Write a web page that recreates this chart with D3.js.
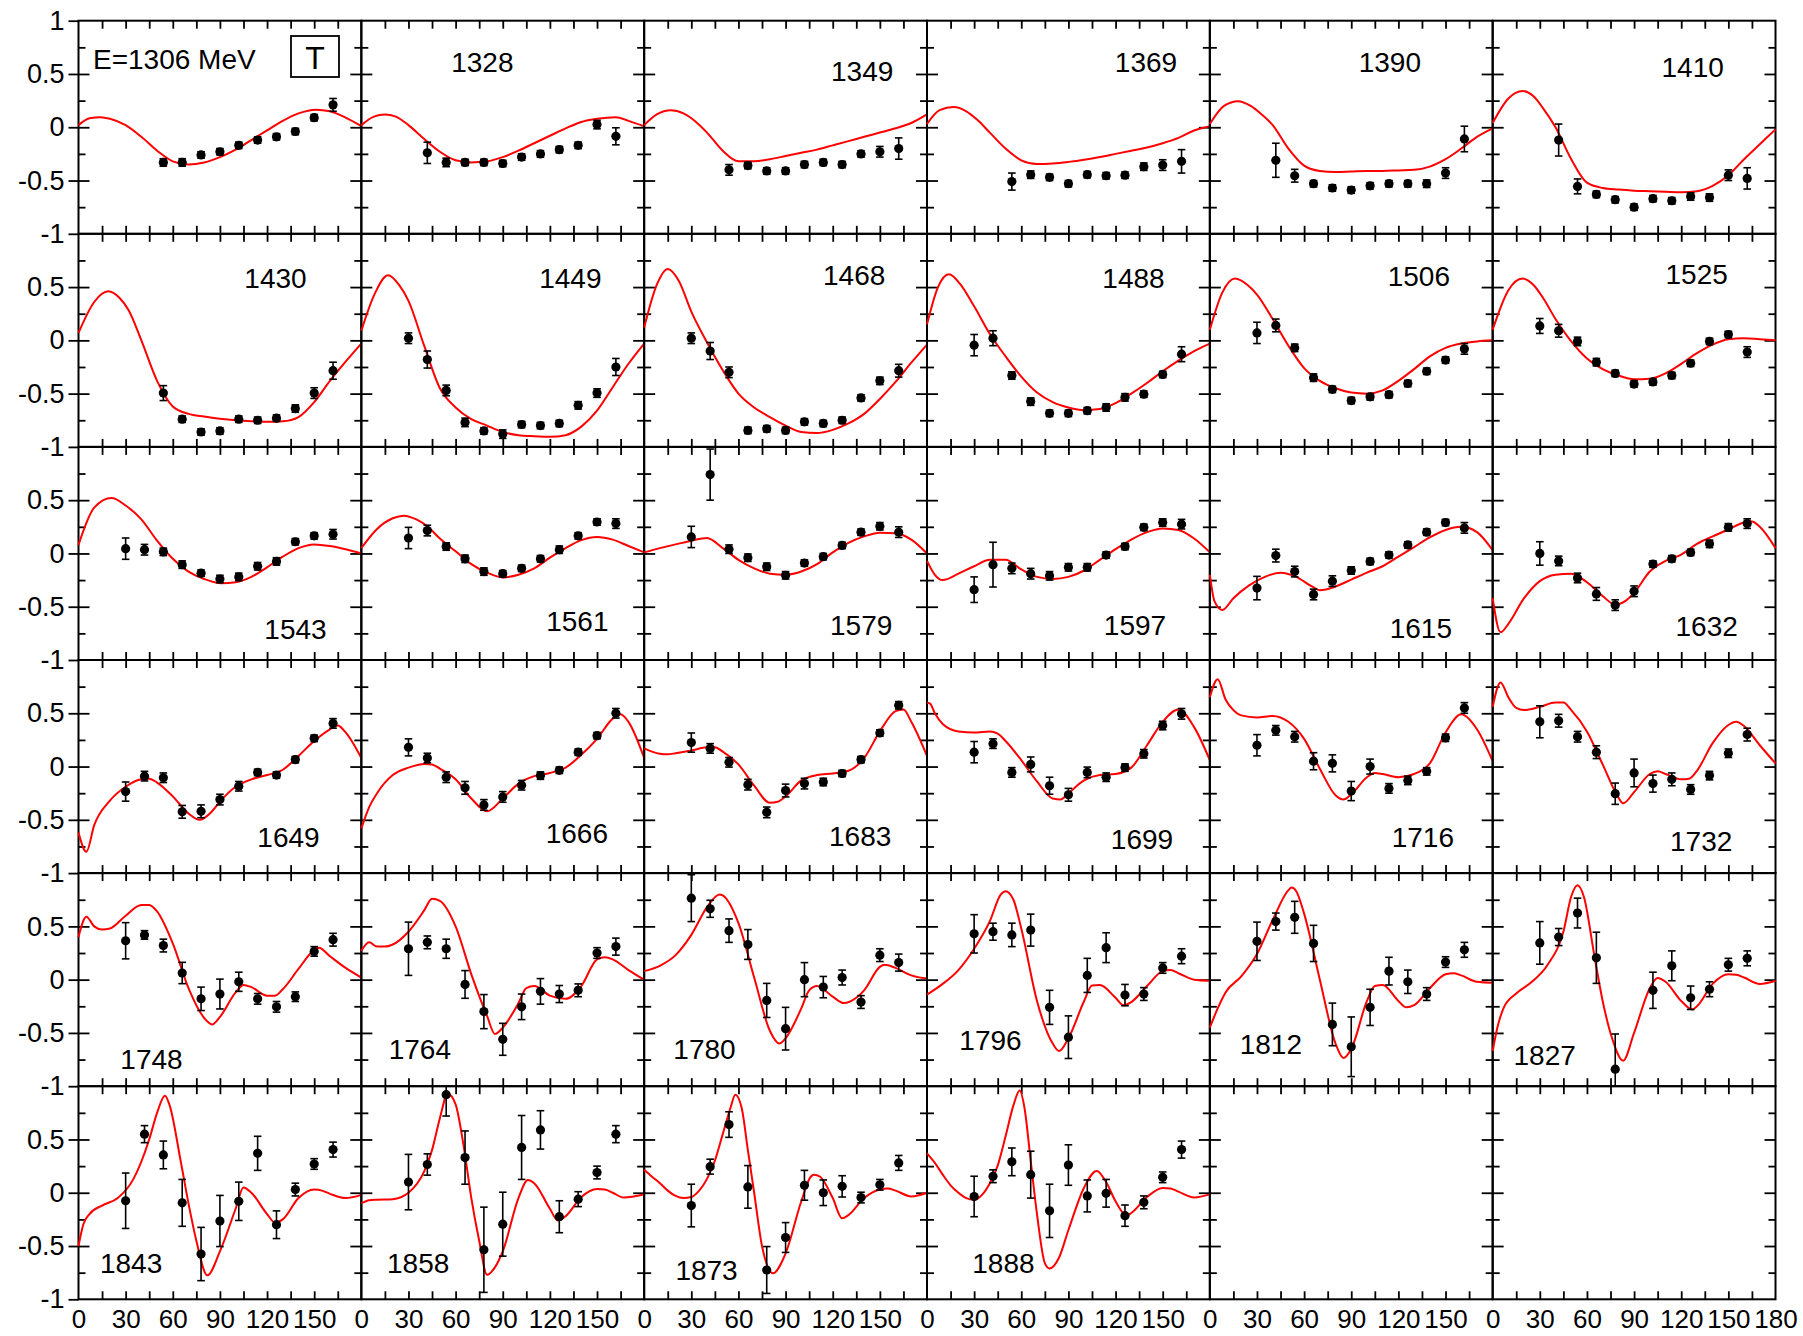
<!DOCTYPE html>
<html><head><meta charset="utf-8">
<script src="https://cdn.jsdelivr.net/npm/d3@7"></script>
<style>body{margin:0;background:#fff}svg{display:block}</style>
</head><body><svg id="c" width="1803" height="1336"></svg>
<script>
// ---------------- DATA ----------------
const energies=[1306,1328,1349,1369,1390,1410,1430,1449,1468,1488,1506,1525,1543,1561,1579,1597,1615,1632,1649,1666,1683,1699,1716,1732,1748,1764,1780,1796,1812,1827,1843,1858,1873,1888];
const angles=[30,42,54,66,78,90,102,114,126,138,150,162];
const asymT=[
[null,null,-0.33,-0.33,-0.26,-0.23,-0.17,-0.12,-0.09,-0.04,0.09,0.21],
[null,-0.24,-0.33,-0.33,-0.33,-0.34,-0.28,-0.25,-0.21,-0.17,0.025,-0.085],
[null,null,-0.40,-0.36,-0.41,-0.41,-0.35,-0.33,-0.35,-0.25,-0.23,-0.2],
[null,null,-0.51,-0.445,-0.47,-0.53,-0.445,-0.455,-0.45,-0.37,-0.355,-0.32],
[null,-0.31,-0.455,-0.53,-0.57,-0.59,-0.55,-0.53,-0.53,-0.53,-0.43,-0.11],
[null,-0.12,-0.555,-0.63,-0.68,-0.75,-0.67,-0.69,-0.65,-0.66,-0.45,-0.48],
[null,null,-0.495,-0.74,-0.86,-0.85,-0.74,-0.75,-0.73,-0.64,-0.495,-0.285],
[0.02,-0.18,-0.47,-0.77,-0.85,-0.88,-0.79,-0.80,-0.78,-0.61,-0.495,-0.25],
[0.02,-0.10,-0.30,-0.845,-0.83,-0.845,-0.765,-0.78,-0.75,-0.54,-0.38,-0.285],
[-0.045,0.02,-0.33,-0.575,-0.685,-0.685,-0.66,-0.63,-0.535,-0.505,-0.32,-0.13],
[0.07,0.14,-0.07,-0.35,-0.46,-0.565,-0.53,-0.51,-0.405,-0.29,-0.185,-0.08],
[0.135,0.09,-0.01,-0.205,-0.31,-0.41,-0.39,-0.33,-0.215,-0.01,0.055,-0.11],
[0.045,0.035,0.015,-0.105,-0.185,-0.24,-0.22,-0.12,-0.075,0.11,0.165,0.18],
[0.145,0.215,0.065,-0.05,-0.17,-0.19,-0.14,-0.05,0.035,0.165,0.295,0.28],
[0.155,0.74,0.04,-0.04,-0.125,-0.205,-0.09,-0.03,0.075,0.2,0.255,0.2],
[-0.34,-0.105,-0.14,-0.19,-0.21,-0.13,-0.13,-0.015,0.065,0.245,0.29,0.275],
[-0.325,-0.02,-0.17,-0.385,-0.26,-0.16,-0.075,-0.015,0.08,0.2,0.29,0.24],
[0.0,-0.07,-0.23,-0.38,-0.485,-0.355,-0.1,-0.05,0.01,0.09,0.245,0.28],
[-0.235,-0.09,-0.105,-0.425,-0.42,-0.31,-0.185,-0.055,-0.08,0.065,0.265,0.405],
[0.18,0.08,-0.1,-0.2,-0.36,-0.285,-0.175,-0.085,-0.035,0.135,0.29,0.5],
[0.225,0.17,0.04,-0.17,-0.43,-0.225,-0.16,-0.145,-0.065,0.065,0.315,0.575],
[0.135,0.215,-0.055,0.02,-0.18,-0.265,-0.055,-0.1,-0.01,0.12,0.385,0.495],
[0.2,0.34,0.28,0.05,0.03,-0.23,0.0,-0.205,-0.13,-0.045,0.27,0.55],
[0.42,0.43,0.28,0.135,-0.255,-0.06,-0.16,-0.12,-0.215,-0.085,0.125,0.3],
[0.365,0.42,0.32,0.0625,-0.18,-0.135,-0.02,-0.18,-0.255,-0.16,0.265,0.375],
[0.29,0.35,0.29,-0.045,-0.3,-0.56,-0.255,-0.11,-0.135,-0.1,0.25,0.31],
[0.765,0.665,0.46,0.33,-0.195,-0.46,0.0,-0.07,0.02,-0.21,0.23,0.16],
[0.43,0.45,0.42,0.465,-0.26,-0.54,0.04,0.3,-0.145,-0.135,0.11,0.22],
[0.36,0.545,0.585,0.34,-0.42,-0.63,-0.26,0.08,-0.02,-0.135,0.165,0.28],
[0.345,0.4,0.625,0.205,-0.84,null,-0.1,0.13,-0.17,-0.09,0.14,0.2],
[-0.075,0.55,0.355,-0.095,-0.575,-0.265,-0.08,0.37,-0.3,0.03,0.27,0.405],
[0.1,0.265,0.92,0.33,-0.535,-0.295,0.425,0.59,-0.225,-0.06,0.19,0.55],
[-0.12,0.245,0.64,0.055,-0.725,-0.42,0.07,0.0,0.06,-0.045,0.075,0.28],
[-0.035,0.155,0.29,0.17,-0.17,0.26,-0.03,-0.005,-0.215,-0.09,0.145,0.405]
];
const errT=[
[null,null,0.035,0.035,0.03,0.03,0.03,0.03,0.03,0.03,0.03,0.06],
[null,0.1,0.04,0.03,0.03,0.03,0.03,0.03,0.03,0.03,0.04,0.08],
[null,null,0.05,0.03,0.03,0.03,0.03,0.03,0.03,0.03,0.05,0.1],
[null,null,0.08,0.035,0.03,0.03,0.03,0.03,0.03,0.035,0.05,0.11],
[null,0.16,0.06,0.03,0.03,0.03,0.03,0.03,0.03,0.035,0.05,0.12],
[null,0.15,0.07,0.03,0.03,0.03,0.03,0.03,0.035,0.035,0.05,0.1],
[null,null,0.07,0.03,0.03,0.03,0.03,0.03,0.03,0.035,0.05,0.08],
[0.05,0.08,0.05,0.04,0.03,0.04,0.03,0.03,0.03,0.035,0.04,0.08],
[0.05,0.08,0.05,0.03,0.03,0.03,0.03,0.03,0.03,0.03,0.035,0.06],
[0.1,0.07,0.035,0.035,0.03,0.03,0.03,0.035,0.035,0.03,0.03,0.07],
[0.1,0.06,0.035,0.035,0.03,0.03,0.03,0.03,0.03,0.03,0.03,0.05],
[0.07,0.06,0.04,0.035,0.03,0.03,0.03,0.03,0.03,0.03,0.03,0.05],
[0.1,0.05,0.035,0.035,0.03,0.035,0.035,0.035,0.035,0.03,0.03,0.045],
[0.1,0.05,0.035,0.035,0.035,0.03,0.03,0.03,0.035,0.03,0.03,0.045],
[0.1,0.24,0.04,0.035,0.035,0.035,0.03,0.03,0.03,0.03,0.035,0.05],
[0.12,0.21,0.05,0.05,0.04,0.035,0.035,0.03,0.03,0.03,0.035,0.045],
[0.11,0.06,0.05,0.05,0.05,0.035,0.03,0.03,0.03,0.03,0.03,0.05],
[0.11,0.045,0.045,0.06,0.05,0.05,0.03,0.03,0.03,0.035,0.035,0.045],
[0.09,0.045,0.045,0.06,0.06,0.05,0.045,0.03,0.03,0.03,0.03,0.045],
[0.08,0.045,0.05,0.06,0.05,0.05,0.045,0.035,0.03,0.03,0.03,0.045],
[0.09,0.045,0.045,0.05,0.05,0.06,0.05,0.035,0.03,0.03,0.03,0.035],
[0.1,0.045,0.045,0.07,0.08,0.06,0.05,0.04,0.035,0.04,0.04,0.05],
[0.1,0.045,0.05,0.08,0.08,0.09,0.07,0.045,0.04,0.035,0.035,0.05],
[0.15,0.06,0.05,0.06,0.1,0.13,0.08,0.06,0.045,0.04,0.04,0.06],
[0.17,0.04,0.06,0.1,0.11,0.14,0.09,0.05,0.05,0.045,0.045,0.06],
[0.25,0.06,0.09,0.13,0.16,0.15,0.12,0.12,0.08,0.06,0.05,0.08],
[0.22,0.08,0.11,0.14,0.16,0.2,0.16,0.1,0.07,0.06,0.06,0.08],
[0.18,0.08,0.11,0.15,0.16,0.2,0.16,0.14,0.1,0.06,0.05,0.07],
[0.18,0.08,0.15,0.17,0.2,0.28,0.17,0.13,0.11,0.06,0.05,0.07],
[0.2,0.08,0.14,0.24,0.33,null,0.17,0.14,0.11,0.07,0.06,0.07],
[0.26,0.08,0.13,0.22,0.25,0.24,0.18,0.16,0.13,0.06,0.05,0.07],
[0.26,0.1,0.2,0.25,0.4,0.3,0.3,0.18,0.15,0.07,0.06,0.08],
[0.2,0.07,0.12,0.2,0.22,0.14,0.14,0.12,0.1,0.05,0.05,0.07],
[0.19,0.06,0.13,0.22,0.25,0.19,0.15,0.13,0.1,0.06,0.05,0.08]
];
const curveT=[
[[0,0.02],[7,0.085],[14,0.095],[20,0.08],[30,0.02],[40,-0.09],[50,-0.22],[60,-0.32],[70,-0.35],[80,-0.33],[90,-0.28],[100,-0.21],[110,-0.12],[120,-0.03],[130,0.06],[140,0.13],[151,0.165],[160,0.15],[170,0.09],[180,0.01]],
[[0,0.02],[8,0.1],[15,0.12],[22,0.1],[30,0.02],[40,-0.11],[50,-0.23],[60,-0.31],[70,-0.33],[80,-0.32],[90,-0.28],[100,-0.22],[110,-0.15],[120,-0.08],[130,-0.01],[140,0.05],[150,0.08],[162,0.095],[170,0.06],[180,0.01]],
[[0,0.02],[8,0.12],[17,0.16],[25,0.13],[33,0.05],[40,-0.05],[50,-0.22],[60,-0.32],[70,-0.32],[80,-0.30],[90,-0.27],[100,-0.24],[110,-0.21],[120,-0.17],[130,-0.13],[140,-0.09],[150,-0.05],[160,-0.01],[170,0.04],[180,0.12]],
[[0,0.03],[8,0.16],[17,0.19],[25,0.15],[32,0.07],[40,-0.05],[50,-0.2],[60,-0.31],[70,-0.345],[80,-0.34],[90,-0.325],[100,-0.305],[110,-0.28],[120,-0.25],[130,-0.22],[140,-0.19],[150,-0.15],[160,-0.1],[170,-0.03],[180,0.01]],
[[0,0.03],[9,0.2],[18,0.245],[26,0.2],[33,0.12],[40,0.02],[50,-0.2],[60,-0.36],[70,-0.41],[80,-0.42],[90,-0.415],[100,-0.41],[110,-0.41],[120,-0.405],[130,-0.4],[140,-0.37],[150,-0.3],[160,-0.2],[170,-0.09],[180,-0.01]],
[[0,0.04],[10,0.27],[19,0.34],[26,0.29],[32,0.18],[40,0.0],[50,-0.3],[60,-0.52],[70,-0.57],[80,-0.585],[90,-0.595],[100,-0.6],[110,-0.605],[120,-0.61],[130,-0.6],[140,-0.55],[150,-0.45],[160,-0.3],[170,-0.16],[180,-0.02]],
[[0,0.07],[10,0.36],[19,0.46],[26,0.4],[32,0.28],[40,0.0],[50,-0.38],[60,-0.62],[70,-0.69],[80,-0.715],[90,-0.735],[100,-0.75],[110,-0.76],[120,-0.765],[130,-0.76],[140,-0.72],[150,-0.58],[160,-0.38],[170,-0.2],[180,-0.03]],
[[0,0.09],[8,0.42],[17,0.61],[24,0.52],[30,0.37],[40,-0.05],[50,-0.45],[60,-0.63],[70,-0.74],[80,-0.8],[90,-0.86],[100,-0.89],[110,-0.9],[120,-0.905],[130,-0.89],[140,-0.81],[150,-0.66],[160,-0.44],[170,-0.22],[180,-0.03]],
[[0,0.12],[8,0.52],[15,0.67],[22,0.56],[30,0.27],[40,-0.02],[50,-0.28],[60,-0.5],[70,-0.63],[80,-0.72],[90,-0.8],[100,-0.86],[110,-0.87],[120,-0.84],[130,-0.78],[140,-0.69],[150,-0.55],[160,-0.39],[170,-0.21],[180,-0.04]],
[[0,0.15],[7,0.5],[14,0.62],[21,0.53],[30,0.32],[40,0.06],[50,-0.15],[60,-0.34],[70,-0.49],[80,-0.58],[90,-0.63],[100,-0.655],[110,-0.645],[120,-0.59],[130,-0.5],[140,-0.4],[150,-0.29],[160,-0.19],[170,-0.1],[180,-0.03]],
[[0,0.1],[8,0.45],[16,0.58],[24,0.52],[30,0.43],[40,0.2],[50,-0.05],[60,-0.26],[70,-0.38],[80,-0.45],[90,-0.49],[100,-0.5],[110,-0.47],[120,-0.38],[130,-0.27],[140,-0.15],[150,-0.07],[160,-0.03],[170,-0.01],[180,0.0]],
[[0,0.1],[10,0.47],[19,0.58],[26,0.52],[32,0.4],[40,0.2],[50,-0.01],[60,-0.17],[70,-0.27],[80,-0.33],[90,-0.365],[100,-0.36],[110,-0.31],[120,-0.22],[130,-0.12],[140,-0.04],[150,0.01],[160,0.02],[170,0.01],[180,0.0]],
[[0,0.08],[10,0.43],[21,0.52],[30,0.45],[40,0.32],[50,0.12],[60,-0.05],[70,-0.17],[80,-0.24],[91,-0.28],[100,-0.27],[110,-0.22],[120,-0.13],[130,-0.03],[140,0.05],[150,0.085],[160,0.07],[170,0.04],[180,0.0]],
[[0,0.05],[10,0.23],[20,0.33],[27,0.355],[35,0.32],[42,0.255],[50,0.14],[60,0.02],[70,-0.1],[80,-0.18],[90,-0.225],[100,-0.2],[110,-0.14],[120,-0.04],[130,0.05],[140,0.125],[150,0.155],[160,0.13],[170,0.07],[180,0.01]],
[[0,0.01],[10,0.05],[20,0.085],[30,0.12],[40,0.145],[50,0.05],[60,-0.06],[70,-0.14],[80,-0.19],[90,-0.2],[100,-0.17],[110,-0.1],[120,0.01],[130,0.1],[140,0.16],[150,0.195],[160,0.19],[170,0.13],[180,0.0]],
[[0,-0.07],[5,-0.2],[10,-0.25],[20,-0.19],[30,-0.12],[40,-0.06],[50,-0.06],[60,-0.15],[70,-0.22],[80,-0.24],[90,-0.22],[100,-0.16],[110,-0.06],[120,0.04],[130,0.13],[140,0.2],[150,0.235],[160,0.22],[170,0.14],[180,0.01]],
[[0,-0.2],[3,-0.45],[8,-0.53],[15,-0.42],[25,-0.3],[35,-0.22],[45,-0.18],[55,-0.22],[65,-0.31],[70,-0.345],[80,-0.31],[90,-0.245],[100,-0.18],[110,-0.12],[120,-0.03],[130,0.06],[140,0.15],[150,0.22],[160,0.25],[170,0.2],[180,0.03]],
[[0,-0.42],[5,-0.74],[10,-0.66],[20,-0.42],[30,-0.26],[40,-0.2],[50,-0.19],[60,-0.27],[70,-0.4],[78,-0.48],[85,-0.44],[90,-0.37],[100,-0.17],[110,-0.07],[120,-0.01],[130,0.09],[140,0.16],[150,0.225],[160,0.29],[165,0.3],[170,0.25],[180,0.05]],
[[0,-0.62],[5,-0.8],[10,-0.55],[20,-0.32],[30,-0.19],[40,-0.12],[45,-0.115],[50,-0.15],[60,-0.28],[70,-0.44],[77,-0.5],[85,-0.42],[90,-0.33],[100,-0.19],[110,-0.12],[120,-0.08],[130,-0.03],[140,0.1],[150,0.24],[160,0.35],[165,0.385],[170,0.32],[180,0.08]],
[[0,-0.58],[5,-0.38],[10,-0.25],[20,-0.08],[30,-0.01],[40,0.025],[45,0.02],[50,-0.02],[60,-0.12],[70,-0.3],[80,-0.42],[90,-0.3],[100,-0.16],[110,-0.09],[120,-0.06],[130,-0.01],[140,0.11],[150,0.26],[160,0.45],[165,0.49],[170,0.42],[180,0.08]],
[[0,0.17],[5,0.14],[10,0.12],[15,0.115],[20,0.125],[30,0.15],[40,0.18],[45,0.18],[50,0.14],[60,0.02],[70,-0.18],[80,-0.34],[85,-0.33],[90,-0.28],[100,-0.13],[110,-0.08],[120,-0.065],[130,-0.04],[140,0.08],[150,0.33],[160,0.52],[165,0.535],[170,0.42],[180,0.1]],
[[0,0.6],[2,0.59],[5,0.5],[10,0.4],[20,0.33],[30,0.32],[40,0.33],[45,0.31],[50,0.24],[60,0.06],[70,-0.14],[80,-0.3],[85,-0.31],[90,-0.25],[100,-0.13],[110,-0.08],[120,-0.07],[130,-0.01],[140,0.2],[150,0.42],[160,0.535],[170,0.37],[180,0.06]],
[[0,0.65],[5,0.82],[10,0.63],[15,0.53],[20,0.48],[30,0.46],[40,0.475],[50,0.42],[60,0.26],[70,-0.02],[80,-0.27],[85,-0.31],[90,-0.26],[100,-0.1],[105,-0.06],[110,-0.07],[120,-0.1],[130,-0.07],[140,0.03],[150,0.32],[160,0.49],[170,0.35],[180,0.05]],
[[0,0.56],[5,0.79],[10,0.65],[15,0.55],[20,0.53],[30,0.56],[40,0.6],[45,0.6],[50,0.53],[60,0.33],[70,0.02],[80,-0.29],[83,-0.345],[90,-0.24],[100,-0.07],[105,-0.045],[110,-0.07],[120,-0.12],[125,-0.115],[130,-0.04],[140,0.22],[150,0.39],[155,0.42],[160,0.38],[170,0.2],[180,0.03]],
[[0,0.4],[5,0.59],[10,0.5],[15,0.47],[20,0.48],[30,0.6],[40,0.7],[45,0.7],[50,0.64],[60,0.34],[70,-0.08],[80,-0.36],[85,-0.42],[90,-0.35],[100,-0.12],[105,-0.05],[110,-0.07],[120,-0.15],[125,-0.15],[130,-0.09],[140,0.1],[150,0.28],[153,0.3],[160,0.22],[170,0.11],[180,0.02]],
[[0,0.27],[5,0.35],[10,0.31],[15,0.31],[20,0.33],[30,0.45],[40,0.65],[45,0.76],[50,0.74],[60,0.5],[70,0.05],[80,-0.34],[85,-0.51],[90,-0.45],[100,-0.22],[105,-0.08],[110,-0.06],[120,-0.15],[130,-0.18],[140,-0.06],[150,0.19],[155,0.21],[160,0.19],[170,0.09],[180,0.0]],
[[0,0.08],[10,0.13],[20,0.23],[30,0.42],[40,0.68],[48,0.8],[50,0.79],[60,0.53],[70,0.02],[80,-0.48],[86,-0.6],[90,-0.55],[100,-0.27],[105,-0.1],[110,-0.06],[120,-0.16],[127,-0.22],[135,-0.17],[140,-0.1],[150,0.12],[153,0.14],[160,0.11],[170,0.04],[180,0.01]],
[[0,-0.14],[10,-0.04],[20,0.09],[30,0.29],[40,0.55],[47,0.8],[50,0.83],[55,0.75],[60,0.48],[70,-0.2],[80,-0.6],[84,-0.67],[90,-0.55],[100,-0.2],[105,-0.055],[110,-0.05],[120,-0.17],[125,-0.24],[130,-0.21],[140,-0.06],[150,0.08],[155,0.09],[160,0.06],[170,0.0],[180,-0.01]],
[[0,-0.45],[5,-0.27],[10,-0.12],[20,0.03],[30,0.24],[40,0.56],[50,0.84],[52,0.865],[55,0.83],[60,0.62],[70,0.0],[80,-0.6],[85,-0.735],[90,-0.65],[100,-0.2],[105,-0.06],[110,-0.05],[120,-0.2],[125,-0.26],[130,-0.24],[140,-0.08],[150,0.05],[155,0.06],[160,0.04],[170,-0.02],[180,-0.03]],
[[0,-0.67],[3,-0.45],[7,-0.265],[15,-0.13],[25,-0.02],[35,0.14],[45,0.45],[50,0.78],[54,0.885],[58,0.78],[65,0.2],[70,-0.2],[76,-0.55],[83,-0.76],[90,-0.5],[100,-0.08],[105,0.015],[110,-0.02],[120,-0.2],[127,-0.28],[130,-0.25],[140,-0.04],[150,0.05],[155,0.045],[160,0.02],[170,-0.04],[180,-0.01]],
[[0,-0.5],[3,-0.3],[7,-0.2],[15,-0.12],[25,-0.05],[35,0.13],[45,0.5],[50,0.75],[55,0.91],[58,0.82],[65,0.3],[70,-0.1],[75,-0.45],[82,-0.775],[90,-0.55],[100,-0.15],[105,0.05],[110,0.0],[120,-0.2],[125,-0.28],[130,-0.25],[140,-0.05],[150,0.03],[155,0.02],[160,-0.01],[170,-0.05],[180,-0.02]],
[[0,-0.1],[5,-0.07],[10,-0.065],[20,-0.06],[30,0.0],[40,0.2],[45,0.4],[50,0.7],[55,0.93],[60,0.83],[65,0.45],[70,-0.05],[75,-0.45],[80,-0.77],[85,-0.7],[90,-0.55],[100,-0.05],[106,0.12],[110,0.09],[120,-0.15],[125,-0.26],[130,-0.22],[140,-0.04],[150,0.035],[155,0.03],[160,0.0],[167,-0.045],[180,-0.015]],
[[0,0.215],[5,0.15],[10,0.09],[15,0.02],[20,-0.03],[25,-0.05],[30,-0.04],[35,0.02],[40,0.13],[45,0.3],[50,0.55],[55,0.8],[58,0.92],[62,0.8],[66,0.4],[70,0.0],[75,-0.5],[82,-0.755],[90,-0.57],[100,-0.08],[106,0.15],[108,0.17],[112,0.15],[120,-0.05],[126,-0.24],[130,-0.21],[140,-0.05],[150,0.03],[155,0.04],[160,0.02],[170,-0.035],[180,0.0]],
[[0,0.37],[5,0.28],[10,0.17],[15,0.07],[20,0.0],[25,-0.05],[30,-0.066],[35,-0.02],[40,0.09],[45,0.255],[50,0.53],[55,0.82],[59,0.96],[62,0.8],[66,0.3],[70,-0.2],[75,-0.66],[78,-0.71],[84,-0.61],[90,-0.35],[100,0.05],[108,0.205],[114,0.1],[120,-0.08],[127,-0.215],[130,-0.19],[140,-0.04],[150,0.045],[155,0.04],[160,0.01],[170,-0.044],[180,-0.015]]
];
const xTickValues=[0,30,60,90,120,150,180];
const yTickValues=[-1,-0.5,0,0.5,1];

// ---------------- LAYOUT (positions only) ----------------
const labelPos=[
[14.5,48.6],[121,51.3],[218,60.3],[219,51],[180,51],[200,56],
[197,54],[209,54],[210,51.5],[206.5,54],[209,52],[204,50],
[217,192],[216,184],[217,188],[208,188],[211,191.5],[214,189],
[210,186.7],[215.5,182.7],[216,186],[215,189],[213,186.7],[208.5,190.7],
[73,196],[58.5,185.6],[60.3,186],[63.5,177],[61,180.6],[52,191.6],
[52.6,187],[56.8,187],[62.4,194],[76.4,187]
];
const FONT='"Liberation Sans", Arial, Helvetica, sans-serif';
const L=78.5,R=1775.5,TOP=20.7,BOT=1299.3,NC=6,NR=6;
const PW=(R-L)/NC, PH=(BOT-TOP)/NR;
const svg=d3.select("#c");
svg.append("rect").attr("width",1803).attr("height",1336).attr("fill","#fff");
const fmt=v=>v===0?"0":(v<0?"-":"")+Math.abs(v);
const clean=g=>{g.select(".domain").remove();g.selectAll("line").attr("stroke","#000").attr("stroke-width",1.8);};

for(let p=0;p<NC*NR;p++){
  const r=Math.floor(p/NC), c=p%NC;
  const x0=L+c*PW, y0=TOP+r*PH;
  const x=d3.scaleLinear().domain([0,180]).range([x0,x0+PW]);
  const y=d3.scaleLinear().domain([-1,1]).range([y0+PH,y0]);
  const g=svg.append("g");
  const xt=d3.range(15,180,15);
  g.append("g").attr("transform",`translate(0,${y0})`).call(d3.axisTop(x).tickValues(xt).tickSize(-8).tickFormat("")).call(clean);
  g.append("g").attr("transform",`translate(0,${y0+PH})`).call(d3.axisBottom(x).tickValues(xt).tickSize(-8).tickFormat("")).call(clean);
  const yMaj=[-0.5,0,0.5], yMin=[-0.75,-0.25,0.25,0.75];
  g.append("g").attr("transform",`translate(${x0},0)`).call(d3.axisLeft(y).tickValues(yMaj).tickSize(-11).tickFormat("")).call(clean);
  g.append("g").attr("transform",`translate(${x0},0)`).call(d3.axisLeft(y).tickValues(yMin).tickSize(-7).tickFormat("")).call(clean);
  g.append("g").attr("transform",`translate(${x0+PW},0)`).call(d3.axisRight(y).tickValues(yMaj).tickSize(-11).tickFormat("")).call(clean);
  g.append("g").attr("transform",`translate(${x0+PW},0)`).call(d3.axisRight(y).tickValues(yMin).tickSize(-7).tickFormat("")).call(clean);
  if(c===0){
    const vals=r===0?yTickValues:yTickValues.filter(v=>v<1);
    g.append("g").attr("transform",`translate(${x0},0)`)
      .call(d3.axisLeft(y).tickValues(vals).tickSize(10).tickPadding(4).tickFormat(fmt)).call(clean)
      .attr("font-size",27).attr("font-family",FONT);
  }
  if(r===NR-1){
    const vals=c===NC-1?xTickValues:xTickValues.filter(v=>v<180);
    g.append("g").attr("transform",`translate(0,${y0+PH})`)
      .call(d3.axisBottom(x).tickValues(vals).tickSize(0).tickPadding(10).tickFormat(d=>String(d))).call(clean)
      .attr("font-size",26).attr("font-family",FONT);
  }
  g.append("rect").attr("x",x0).attr("y",y0).attr("width",PW).attr("height",PH)
    .attr("fill","none").attr("stroke","#000").attr("stroke-width",2);

  if(p>=energies.length) continue;
  const line=d3.line().x(d=>x(d[0])).y(d=>y(d[1])).curve(d3.curveMonotoneX);
  g.append("path").attr("d",line(curveT[p])).attr("fill","none").attr("stroke","#ff0000").attr("stroke-width",2);

  const pts=angles.map((a,i)=>({a,v:asymT[p][i],e:errT[p][i]})).filter(d=>d.v!==null);
  const cap=3.8;
  pts.forEach(d=>{
    const lo=Math.max(-1,d.v-d.e), hi=Math.min(1,d.v+d.e);
    const X=x(d.a);
    g.append("line").attr("x1",X).attr("x2",X).attr("y1",y(lo)).attr("y2",y(hi)).attr("stroke","#000").attr("stroke-width",1.6);
    if(d.v-d.e>-1) g.append("line").attr("x1",X-cap).attr("x2",X+cap).attr("y1",y(lo)).attr("y2",y(lo)).attr("stroke","#000").attr("stroke-width",1.6);
    if(d.v+d.e<1) g.append("line").attr("x1",X-cap).attr("x2",X+cap).attr("y1",y(hi)).attr("y2",y(hi)).attr("stroke","#000").attr("stroke-width",1.6);
  });
  g.selectAll("circle.pt").data(pts).join("circle").attr("class","pt")
    .attr("cx",d=>x(d.a)).attr("cy",d=>y(d.v)).attr("r",4.6).attr("fill","#000");

  const lp=labelPos[p];
  if(p===0){
    g.append("text").attr("x",x0+lp[0]).attr("y",y0+lp[1]).attr("font-family",FONT).attr("font-size",28).text("E="+energies[p]+" MeV");
    g.append("rect").attr("x",291).attr("y",36).attr("width",48).attr("height",41).attr("fill","none").attr("stroke","#000").attr("stroke-width",1.8);
    g.append("text").attr("x",315).attr("y",69).attr("text-anchor","middle").attr("font-family",FONT).attr("font-size",32).text("T");
  } else {
    g.append("text").attr("x",x0+lp[0]).attr("y",y0+lp[1]).attr("text-anchor","middle").attr("font-family",FONT).attr("font-size",28).text(energies[p]);
  }
}
</script></body></html>
